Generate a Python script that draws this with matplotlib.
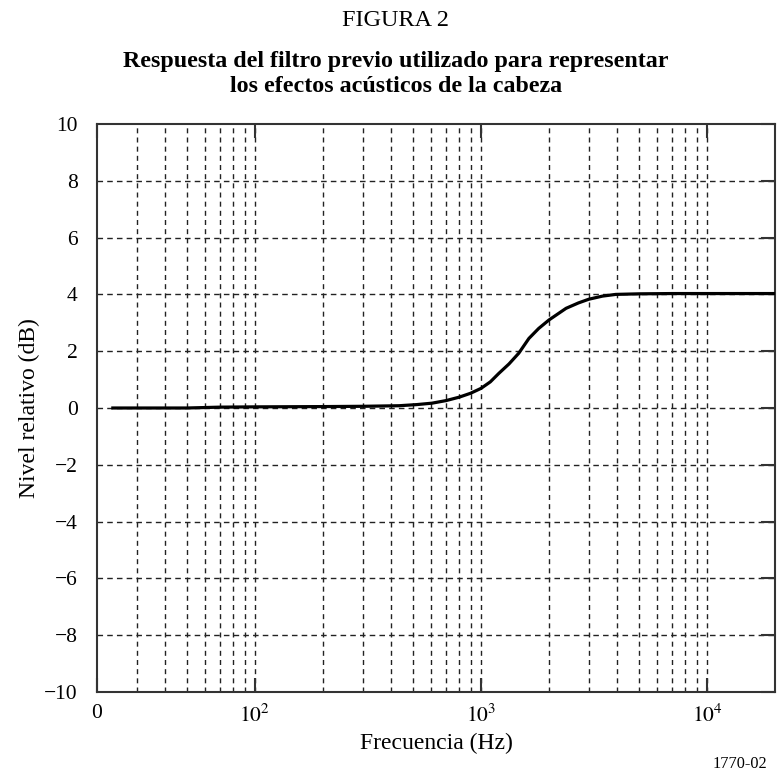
import matplotlib.pyplot as plt
import numpy as np
from matplotlib.ticker import FixedLocator, NullFormatter

plt.rcParams['font.family'] = ['Liberation Serif', 'DejaVu Serif']
plt.rcParams['mathtext.fontset'] = 'stix'

# Curve (frequency in Hz, level in dB)
freq_hz = [23.5, 50, 70, 100, 200, 300, 434, 520, 607, 700, 800, 900, 1000,
           1100, 1200, 1330, 1470, 1630, 1800, 2000, 2380, 2700, 3000,
           3450, 3950, 5000, 7000, 10000, 20000]
level_db = [0.0, 0.0, 0.03, 0.04, 0.05, 0.06, 0.08, 0.12, 0.17, 0.26, 0.38,
            0.52, 0.69, 0.92, 1.22, 1.55, 1.93, 2.45, 2.8, 3.1, 3.51, 3.7,
            3.83, 3.94, 4.0, 4.02, 4.03, 4.03, 4.03]

x_major = [20, 100, 1000, 10000]
x_major_labels = ['0', '$10^2$', '$10^3$', '$10^4$']
x_minor = [30, 40, 50, 60, 70, 80, 90,
           200, 300, 400, 500, 600, 700, 800, 900,
           2000, 3000, 4000, 5000, 6000, 7000, 8000, 9000]
y_ticks = [-10, -8, -6, -4, -2, 0, 2, 4, 6, 8, 10]
y_labels = ['\u221210', '\u22128', '\u22126', '\u22124', '\u22122', '0', '2', '4', '6', '8', '10']

fig = plt.figure(figsize=(7.8, 7.77), dpi=100)
ax = fig.add_axes([97 / 780, 1 - 692 / 777, 678 / 780, 568 / 777])

ax.set_xscale('log')
ax.set_xlim(20, 20000)
ax.set_ylim(-10, 10)

# dashed grid
vgrid = dict(color='#222222', linestyle=(0, (3.6, 3.0)), linewidth=1.0, zorder=1)
hgrid = dict(color='#222222', linestyle=(0, (4.0, 3.0)), linewidth=1.0, zorder=1)
for f in x_minor + x_major[1:]:
    ax.axvline(f, **vgrid)
for v in y_ticks[1:-1]:
    ax.axhline(v, **hgrid)

ax.plot(freq_hz, level_db, color='black', linewidth=2.3, zorder=3)

ax.xaxis.set_major_locator(FixedLocator(x_major))
ax.set_xticklabels(x_major_labels)
ax.xaxis.set_minor_locator(FixedLocator(x_minor))
ax.xaxis.set_minor_formatter(NullFormatter())
ax.set_yticks(y_ticks)
ax.set_yticklabels(y_labels)

ax.tick_params(axis='both', which='major', direction='in', length=10, width=1.5,
               color='#333333', top=True, right=True, labelsize=15.5)
ax.tick_params(axis='y', which='major', left=False, pad=14)
ax.tick_params(axis='x', which='major', pad=9)
ax.tick_params(axis='x', which='minor', length=0)

for s in ax.spines.values():
    s.set_linewidth(1.5)
    s.set_color('#333333')

ax.set_xlabel('Frecuencia (Hz)', fontsize=17, va='center')
ax.xaxis.set_label_coords(0.5, (692 - 743) / 568)
ax.set_ylabel('Nivel relativo (dB)', fontsize=17, va='center')
ax.yaxis.set_label_coords((29 - 97) / 678, 0.5)

fig.text(396 / 780, 1 - 20 / 777, 'FIGURA 2', ha='center', va='center', fontsize=17.5)
fig.text(396 / 780, 1 - 61 / 777, 'Respuesta del filtro previo utilizado para representar',
         ha='center', va='center', fontsize=17.3, fontweight='bold')
fig.text(396 / 780, 1 - 87 / 777, 'los efectos acústicos de la cabeza',
         ha='center', va='center', fontsize=17.3, fontweight='bold')
fig.text(740 / 780, 1 - 764 / 777, '1770-02', ha='center', va='center', fontsize=11.7)

fig.savefig('out.png', dpi=100)
